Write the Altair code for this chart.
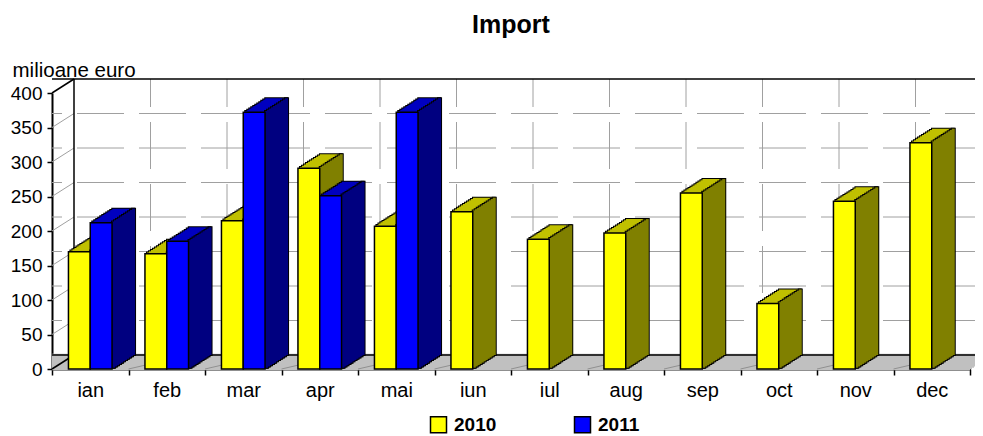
import altair as alt
import pandas as pd

months = ["ian", "feb", "mar", "apr", "mai", "iun", "iul", "aug", "sep", "oct", "nov", "dec"]
series = ["2010", "2011"]
v2010 = [170, 167, 215, 291, 207, 228, 188, 197, 255, 95, 243, 328]
v2011 = [212, 185, 372, 251, 372]
y_ticks = [0, 50, 100, 150, 200, 250, 300, 350, 400]
wall_ticks = [50, 100, 150, 200, 250, 300, 350]

front_colors = ["#FFFF00", "#0000FF"]
top_colors = {"2010": "#C0C000", "2011": "#0000C0"}
side_colors = {"2010": "#808000", "2011": "#000080"}

rows = [{"month": m, "series": "2010", "value": v} for m, v in zip(months, v2010)]
rows += [{"month": m, "series": "2011", "value": v} for m, v in zip(months, v2011)]
df = pd.DataFrame(rows)

W, H = 918, 276
DX, DY = 22.0, 14.0
N = 11
SX, SY = DX / N, DY / N
BAND = W / 12
SUB = 21.8
PAD_OUT = (BAND / SUB - 2) / 2
CENTER = {"2010": -SUB / 2, "2011": SUB / 2}

FONT = "Liberation Sans"

x_scale = alt.Scale(domain=months, paddingInner=0, paddingOuter=0)
y_scale = alt.Scale(domain=[0, 400], nice=False, zero=True)
off_scale = alt.Scale(domain=series, paddingInner=0, paddingOuter=PAD_OUT)

AX = alt.Axis(title=None, tickBand="extent", labelAngle=0, labelFontSize=20,
              labelPadding=5, tickSize=6)
AY = alt.Axis(values=y_ticks, title="milioane euro", titleAngle=0, titleAlign="left",
              titleBaseline="alphabetic", titleX=-40, titleY=-17, titleFontSize=20.5,
              titleFontWeight="normal", labelFontSize=19, labelPadding=5, tickSize=5)


def X(field="month:N", **kw):
    return alt.X(field, scale=x_scale, sort=months, axis=AX, **kw)


def Y(field="value:Q"):
    return alt.Y(field, scale=y_scale, axis=AY)


layers = []

# ---- 3D frame: left side wall lines
lw = pd.DataFrame({"v": y_ticks})
layers.append(alt.Chart(lw).transform_filter("datum.v > 0 && datum.v < 400").mark_rule(
    color="#A0A0A0", strokeWidth=1, x2Offset=DX, y2Offset=-DY).encode(
    x=alt.value(0), x2=alt.value(0), y=Y("v:Q"), y2="v:Q"))
# back wall horizontal dashed grid
wg = pd.DataFrame({"v": wall_ticks})
layers.append(alt.Chart(wg).mark_rule(
    color="#A0A0A0", strokeWidth=1, strokeDash=[47, 15],
    xOffset=DX, x2Offset=DX, yOffset=-DY, y2Offset=-DY).encode(y=Y("v:Q")))
# back wall vertical dashed grid at category boundaries
mb = pd.DataFrame({"month": months, "lo": 0, "hi": 400})
layers.append(alt.Chart(mb).transform_filter("datum.month != 'ian'").mark_rule(
    color="#A0A0A0", strokeWidth=1, strokeDash=[47, 15],
    xOffset=DX, yOffset=-DY, y2Offset=-DY).encode(
    x=X(bandPosition=0), y=Y("lo:Q"), y2="hi:Q"))
# floor fill
floor = pd.DataFrame({"v": [0]})
for i in range(0, N + 1):
    layers.append(alt.Chart(floor).mark_rule(
        color="#C0C0C0", strokeWidth=2.6,
        xOffset=SX * i, x2Offset=SX * i, yOffset=-SY * i, y2Offset=-SY * i).encode(y=Y("v:Q")))
# floor slanted lines at category boundaries
layers.append(alt.Chart(mb).transform_filter("datum.month != 'ian'").mark_rule(
    color="#909090", strokeWidth=1, x2Offset=DX, y2Offset=-DY).encode(
    x=X(bandPosition=0), x2="month:N", y=Y("lo:Q"), y2="lo:Q"))
# black edges of the frame
edges = pd.DataFrame({"v": [0, 400]})
layers.append(alt.Chart(edges).mark_rule(
    color="black", strokeWidth=1.5, xOffset=DX, x2Offset=DX, yOffset=-DY, y2Offset=-DY).encode(
    y=Y("v:Q")))
layers.append(alt.Chart(edges).mark_rule(
    color="black", strokeWidth=1.5, x2Offset=DX, y2Offset=-DY).encode(
    x=alt.value(0), x2=alt.value(0), y=Y("v:Q"), y2="v:Q"))
layers.append(alt.Chart(mb).transform_filter("datum.month == 'ian'").mark_rule(
    color="black", strokeWidth=1.5, xOffset=DX, yOffset=-DY, y2Offset=-DY).encode(
    x=X(bandPosition=0), y=Y("lo:Q"), y2="hi:Q"))

# ---- 3D bars (top and side faces), one series after the other
for s in series:
    base = alt.Chart(df).transform_filter(alt.datum.series == s)
    c = CENTER[s]
    strip_c = c + SUB / 2 - 0.5
    for i in range(1, N + 1):
        layers.append(base.mark_bar(
            width=SUB, fill="black", stroke="black", strokeWidth=2,
            xOffset=c + SX * i, yOffset=-SY * i, y2Offset=-SY * i).encode(x=X(), y=Y()))
    for i in range(1, N + 1):
        layers.append(base.mark_bar(
            width=SUB, fill=top_colors[s], strokeWidth=0,
            xOffset=c + SX * i, yOffset=-SY * i, y2Offset=-SY * i).encode(x=X(), y=Y()))
    for i in range(1, N + 1):
        layers.append(base.mark_bar(
            width=SX + 1, fill="black", stroke="black", strokeWidth=2,
            xOffset=strip_c + SX * i, yOffset=-SY * i, y2Offset=-SY * i).encode(x=X(), y=Y()))
    for i in range(1, N + 1):
        layers.append(base.mark_bar(
            width=SX + 1, fill=side_colors[s], strokeWidth=0,
            xOffset=strip_c + SX * i, yOffset=-SY * i, y2Offset=-SY * i).encode(x=X(), y=Y()))

# ---- front faces (grouped bars) carry the legend
front = alt.Chart(df).mark_bar(stroke="black", strokeWidth=1.5).encode(
    x=X(),
    xOffset=alt.XOffset("series:N", scale=off_scale),
    y=Y(),
    color=alt.Color("series:N", scale=alt.Scale(domain=series, range=front_colors),
                    legend=alt.Legend(title=None, orient="none", legendX=377, legendY=322,
                                      direction="horizontal", symbolType="square", symbolSize=256,
                                      symbolStrokeColor="black", symbolStrokeWidth=1.5,
                                      labelFont=FONT, labelFontSize=19, labelFontWeight="bold",
                                      labelColor="black", labelOffset=6, columnPadding=74,
                                      padding=0)))
layers.append(front)

chart = alt.layer(*layers).properties(
    width=W, height=H,
    autosize=alt.AutoSizeParams(type="none"),
    padding={"left": 44, "top": 85, "right": 5, "bottom": 70},
    title=alt.TitleParams(text="Import", font=FONT, fontSize=25, fontWeight="bold",
                          color="black", anchor="middle", frame="group", baseline="alphabetic",
                          offset=2),
).configure_view(stroke=None).configure_axis(
    labelFont=FONT, labelColor="black", titleFont=FONT, titleColor="black",
    tickColor="black", tickWidth=1.5, domainColor="black", domainWidth=2, grid=False, zindex=1,
)

chart.save("out.html", embed_options={"renderer": "svg", "actions": False})
